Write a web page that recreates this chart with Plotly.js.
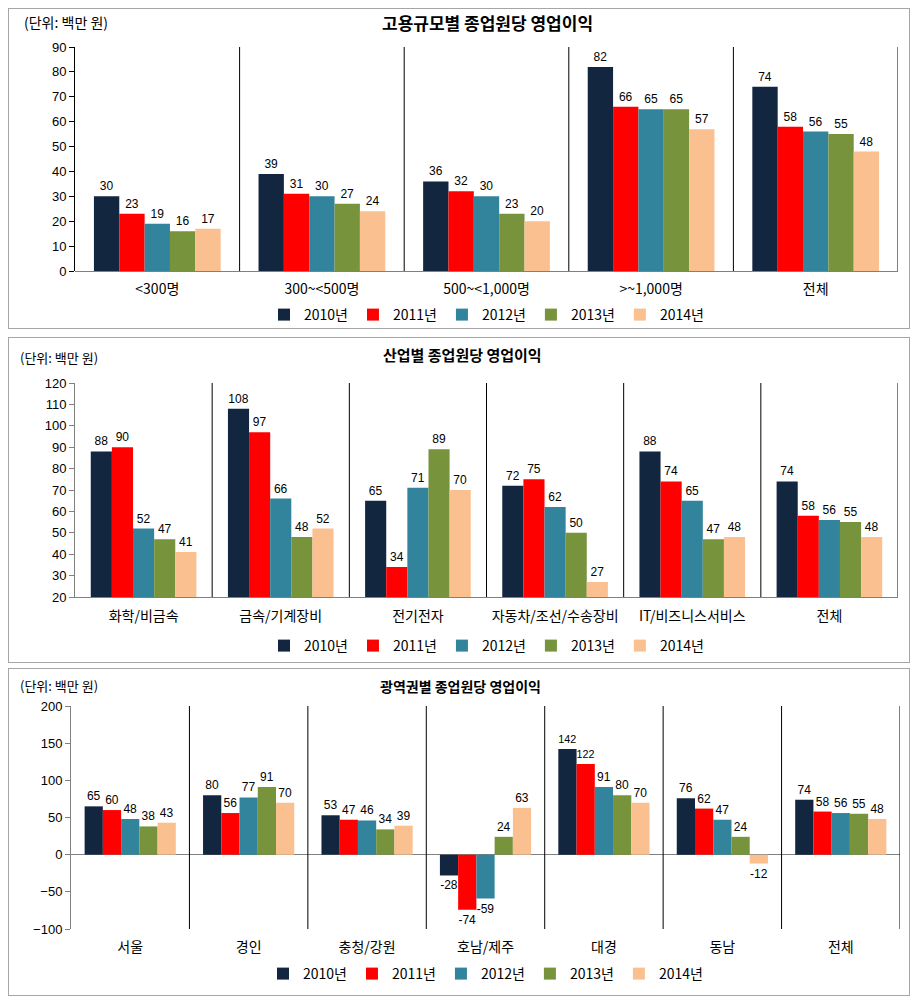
<!DOCTYPE html>
<html><head><meta charset="utf-8">
<script src="https://cdn.plot.ly/plotly-3.0.1.min.js"></script>
<style>
body{margin:0;background:#fff;width:922px;height:1000px;position:relative;overflow:hidden;}
.p{position:absolute;left:8px;width:902px;border:1px solid #a6a6a6;box-sizing:border-box;overflow:hidden;}
</style></head><body>
<div class="p" style="top:8px;height:321px;"><div id="c1"></div></div>
<div class="p" style="top:337px;height:326px;"><div id="c2"></div></div>
<div class="p" style="top:668px;height:328px;"><div id="c3"></div></div>
<script>
const years = ['2010년','2011년','2012년','2013년','2014년'];
const colors = ['#13263F','#FF0000','#31849B','#77933C','#FAC090'];

const cat1 = ['<300명','300~<500명','500~<1,000명','>~1,000명','전체'];
const v1_2010 = [30,39,36,82,74];
const v1_2011 = [23,31,32,66,58];
const v1_2012 = [19,30,30,65,56];
const v1_2013 = [16,27,23,65,55];
const v1_2014 = [17,24,20,57,48];

const cat2 = ['화학/비금속','금속/기계장비','전기전자','자동차/조선/수송장비','IT/비즈니스서비스','전체'];
const v2_2010 = [88,108,65,72,88,74];
const v2_2011 = [90,97,34,75,74,58];
const v2_2012 = [52,66,71,62,65,56];
const v2_2013 = [47,48,89,50,47,55];
const v2_2014 = [41,52,70,27,48,48];

const cat3 = ['서울','경인','충청/강원','호남/제주','대경','동남','전체'];
const v3_2010 = [65,80,53,-28,142,76,74];
const v3_2011 = [60,56,47,-74,122,62,58];
const v3_2012 = [48,77,46,-59,91,47,56];
const v3_2013 = [38,91,34,24,80,24,55];
const v3_2014 = [43,70,39,63,70,-12,48];

const titles = ['고용규모별 종업원당 영업이익','산업별 종업원당 영업이익','광역권별 종업원당 영업이익'];
const unitLabel = '(단위: 백만 원)';

const KR = '"Noto Sans CJK KR", "Liberation Sans", sans-serif';
const NUM = '"Liberation Sans", Arial, sans-serif';

function traces(cats, series){
  return series.map((vals,i)=>({
    type:'bar', x:cats, y:vals, name:years[i],
    marker:{color:colors[i], line:{width:0}},
    text:vals.map(String), textposition:'outside', cliponaxis:false,
    textfont:{family:NUM, size:12, color:'#000'},
    hoverinfo:'skip'
  }));
}
function seps(n){
  const s=[];
  for(let i=0;i<n;i++){
    s.push({type:'line', xref:'x', yref:'paper', x0:i+0.5, x1:i+0.5, y0:0, y1:1, line:{color:'#000', width:1}});
  }
  return s;
}
function layout(o){
  const ph = o.h - o.t - o.b, pw = o.w - o.l - o.r;
  const CL = 9; // content left page x
  return {
    width:o.w, height:o.h, margin:{l:o.l, r:o.r, t:o.t, b:o.b},
    paper_bgcolor:'#fff', plot_bgcolor:'#fff', showlegend:true,
    bargap:0.23, bargroupgap:0, barmode:'group',
    font:{family:KR, size:12, color:'#000'},
    xaxis:{type:'category', showgrid:false, ticks:'', showline:o.xline, linecolor:'#808080', linewidth:1,
      tickfont:{family:KR, size:14, color:'#000'}, ticklabelstandoff:o.so, range:[-0.5, o.n-0.5], fixedrange:true, zeroline:false},
    yaxis:{range:o.yr, dtick:o.dt, showgrid:false, showline:true, linecolor:o.ylc, linewidth:1, ticks:'outside', ticklen:5,
      tickcolor:o.ylc, tickfont:{family:NUM, size:13, color:'#000'}, zeroline:true, zerolinecolor:'#808080', zerolinewidth:1,
      fixedrange:true},
    legend:{orientation:'h', x:0.5, xanchor:'center', yref:'container', y:1-(o.legY-o.top)/o.h, yanchor:'middle',
      font:{family:KR, size:14, color:'#000'}, itemwidth:30, traceorder:'normal'},
    shapes:seps(o.n),
    annotations:[
      {text:'<b>'+o.title+'</b>', xref:'paper', yref:'paper', x:(o.tx-CL-o.l)/pw, y:1+(o.t-(o.tY-o.top))/ph,
        xanchor:'center', yanchor:'middle', showarrow:false, font:{family:KR, size:o.tfs, color:'#000'}},
      {text:unitLabel, xref:'paper', yref:'paper', x:(o.ux-CL-o.l)/pw, y:1+(o.t-(o.uY-o.top))/ph,
        xanchor:'left', yanchor:'middle', showarrow:false, font:{family:KR, size:o.ufs, color:'#000'}}
    ]
  };
}
const cfg = {displayModeBar:false, staticPlot:true};

// Panel 1: content top 9, plot 47..271, x 75..898
Plotly.newPlot('c1', traces(cat1,[v1_2010,v1_2011,v1_2012,v1_2013,v1_2014]),
  layout({w:900,h:319,top:9,l:66,r:11,t:38,b:57,n:5,yr:[0,90],dt:10,xline:false,ylc:'#000',so:8,
    legY:315, title:titles[0], tx:487, tY:22, tfs:17, ux:22, uY:22, ufs:14}), cfg);
// Panel 2: content top 338, plot 383..597, x 75..898
Plotly.newPlot('c2', traces(cat2,[v2_2010,v2_2011,v2_2012,v2_2013,v2_2014]),
  layout({w:900,h:324,top:338,l:66,r:11,t:45,b:65,n:6,yr:[20,120],dt:10,xline:true,ylc:'#808080',so:6,
    legY:646, title:titles[1], tx:462, tY:355, tfs:15, ux:18, uY:358, ufs:13}), cfg);
// Panel 3: content top 669, plot 706..929, x 71..900
Plotly.newPlot('c3', traces(cat3,[v3_2010,v3_2011,v3_2012,v3_2013,v3_2014]),
  layout({w:900,h:326,top:669,l:62,r:9,t:37,b:66,n:7,yr:[-100,200],dt:50,xline:false,ylc:'#808080',so:8,
    legY:974, title:titles[2], tx:460, tY:686, tfs:14, ux:18, uY:686, ufs:13}), cfg);
</script></body></html>
